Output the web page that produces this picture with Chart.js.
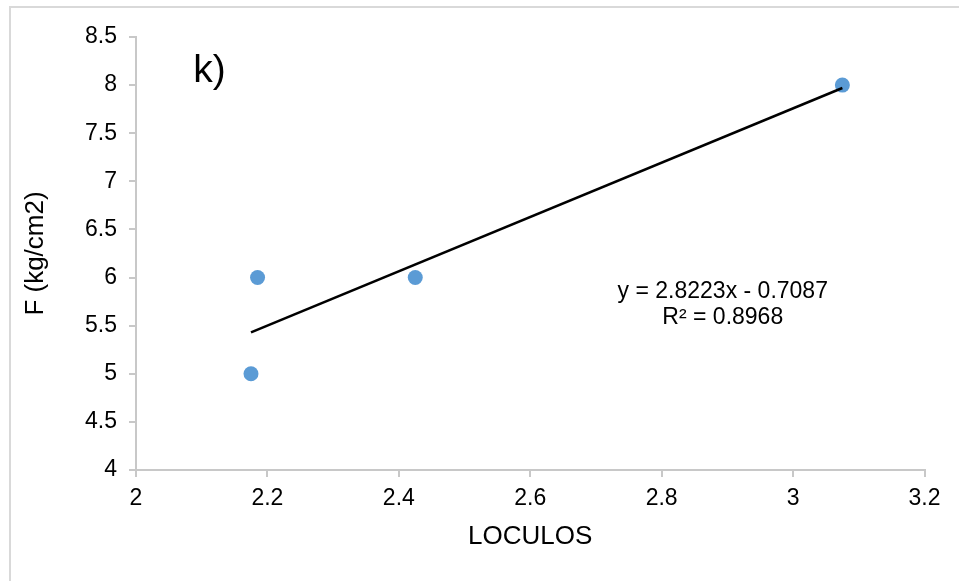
<!DOCTYPE html>
<html>
<head>
<meta charset="utf-8">
<script src="https://cdn.jsdelivr.net/npm/chart.js@4.4.1/dist/chart.umd.min.js"></script>
<style>
  html, body { margin: 0; padding: 0; background: #ffffff; }
  #wrap { width: 959px; height: 581px; position: relative; }
  canvas { display: block; }
</style>
</head>
<body>
<div id="wrap"><canvas id="c" width="959" height="581"></canvas></div>
<script>
// ---- data ----
const loculos = [2.175, 2.185, 2.425, 3.075];
const fValues = [5, 6, 6, 8];
const trendSlope = 2.8223;
const trendIntercept = -0.7087;
const equationLines = ['y = 2.8223x - 0.7087', 'R² = 0.8968'];
const panelLabel = 'k)';
const xTitle = 'LOCULOS';
const yTitle = 'F (kg/cm2)';
const xTicks = [2, 2.2, 2.4, 2.6, 2.8, 3, 3.2];
const yTicks = [4, 4.5, 5, 5.5, 6, 6.5, 7, 7.5, 8, 8.5];

const FONT = "'Liberation Sans', Arial, sans-serif";
const AXIS_COLOR = '#c8c8c8';

const scatterPoints = loculos.map((x, i) => ({ x: x, y: fValues[i] }));
const xMin = Math.min(...loculos), xMax = Math.max(...loculos);
const trendPoints = [xMin, xMax].map(x => ({ x: x, y: trendSlope * x + trendIntercept }));

const fmt = v => String(Number(Number(v).toFixed(2)));

const frame = {
  id: 'frame',
  beforeDraw(chart) {
    const ctx = chart.ctx;
    ctx.save();
    ctx.strokeStyle = '#d9d9d9';
    ctx.lineWidth = 2;
    ctx.beginPath();
    ctx.moveTo(10, 581);
    ctx.lineTo(10, 7);
    ctx.lineTo(959, 7);
    ctx.stroke();
    ctx.restore();
  }
};

const annotations = {
  id: 'annotations',
  afterDatasetsDraw(chart) {
    const ctx = chart.ctx;
    const xs = chart.scales.x, ys = chart.scales.y;
    ctx.save();
    ctx.fillStyle = '#000000';
    ctx.textAlign = 'left';
    ctx.textBaseline = 'alphabetic';
    ctx.font = '39px ' + FONT;
    ctx.fillText(panelLabel, xs.getPixelForValue(2.087), ys.getPixelForValue(8.03));
    ctx.font = '23px ' + FONT;
    ctx.textAlign = 'center';
    ctx.textBaseline = 'middle';
    const cx = xs.getPixelForValue(2.893);
    ctx.fillText(equationLines[0], cx, ys.getPixelForValue(5.85));
    ctx.fillText(equationLines[1], cx, ys.getPixelForValue(5.58));
    ctx.restore();
  }
};

new Chart(document.getElementById('c'), {
  type: 'scatter',
  data: {
    datasets: [
      {
        label: 'F',
        data: scatterPoints,
        backgroundColor: '#5b9bd5',
        borderColor: '#5b9bd5',
        pointRadius: 7.5,
        pointHoverRadius: 7.5,
        borderWidth: 0,
        order: 2
      },
      {
        label: 'trend',
        type: 'line',
        data: trendPoints,
        borderColor: '#000000',
        borderWidth: 2.5,
        pointRadius: 0,
        fill: false,
        order: 1
      }
    ]
  },
  options: {
    responsive: false,
    animation: false,
    devicePixelRatio: 1,
    layout: { padding: { left: 0, top: 37, right: 34.5, bottom: 0 } },
    plugins: { legend: { display: false }, tooltip: { enabled: false } },
    scales: {
      x: {
        type: 'linear',
        min: 2, max: 3.2,
        afterBuildTicks: s => { s.ticks = xTicks.map(v => ({ value: v })); },
        afterFit: s => { s.height = 111; },
        ticks: { callback: fmt, color: '#000', font: { family: FONT, size: 23 }, padding: 8, maxRotation: 0 },
        grid: { drawOnChartArea: false, drawTicks: true, tickLength: 7, color: AXIS_COLOR, lineWidth: 2 },
        border: { display: true, color: AXIS_COLOR, width: 2 },
        title: { display: true, text: xTitle, color: '#000', font: { family: FONT, size: 26 }, padding: { top: 0, bottom: 29 } }
      },
      y: {
        type: 'linear',
        min: 4, max: 8.5,
        afterBuildTicks: s => { s.ticks = yTicks.map(v => ({ value: v })); },
        afterFit: s => { s.width = 136; },
        ticks: { callback: fmt, color: '#000', font: { family: FONT, size: 23 }, padding: 12 },
        grid: { drawOnChartArea: false, drawTicks: true, tickLength: 7, color: AXIS_COLOR, lineWidth: 2 },
        border: { display: true, color: AXIS_COLOR, width: 2 },
        title: { display: true, text: yTitle, color: '#000', font: { family: FONT, size: 26 }, padding: { top: 20, bottom: 0 } }
      }
    }
  },
  plugins: [frame, annotations]
});
</script>
</body>
</html>
